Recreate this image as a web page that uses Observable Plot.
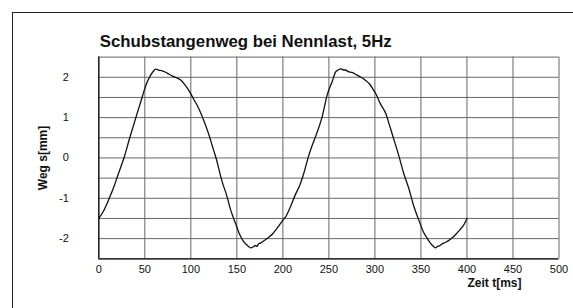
<!DOCTYPE html>
<html>
<head>
<meta charset="utf-8">
<script src="https://cdn.jsdelivr.net/npm/d3@7"></script>
<script src="https://cdn.jsdelivr.net/npm/@observablehq/plot@0.6"></script>
<style>
  html, body { margin: 0; padding: 0; background: #fff; overflow: hidden; }
  #wrap { position: relative; width: 573px; height: 308px; }
  #outer { position: absolute; left: 12px; top: 12px; width: 600px; height: 400px;
           border-left: 1.5px solid #222; border-top: 1.5px solid #222; pointer-events: none; }
</style>
</head>
<body>
<div id="wrap"><div id="outer"></div></div>
<script>
const title = "Schubstangenweg bei Nennlast, 5Hz";
const xLabel = "Zeit t[ms]";
const yLabel = "Weg s[mm]";
const xTicks = [0, 50, 100, 150, 200, 250, 300, 350, 400, 450, 500];
const yTicks = [-2, -1, 0, 1, 2];
const yGrid = [-2.5, -2, -1.5, -1, -0.5, 0, 0.5, 1, 1.5, 2, 2.5];

const timeMs = [0,5,11,16,20,24,28,33,40,47,51,56,60,62,65,69,72,76,80,84,89,93,96,100,103,107,111,114,117,120,123,125,128,132,135,138,141,143,146,149,152,154,157,160,163,165,168,170,172,174,176,179,181,185,189,192,196,200,203,208,213,219,223,228,232,236,243,248,254,257,260,263,266,268,271,275,280,285,290,294,298,301,306,312,316,320,323,326,331,337,342,348,353,357,361,364,366,368,370,373,377,380,384,388,392,396,400];
const wegMm = [-1.50,-1.32,-1.02,-0.74,-0.48,-0.22,0.05,0.45,0.98,1.50,1.79,2.04,2.17,2.20,2.18,2.16,2.13,2.08,2.03,1.99,1.93,1.83,1.74,1.59,1.46,1.30,1.10,0.93,0.75,0.55,0.32,0.17,-0.05,-0.42,-0.66,-0.86,-1.10,-1.27,-1.47,-1.65,-1.84,-1.94,-2.06,-2.14,-2.20,-2.23,-2.20,-2.17,-2.19,-2.12,-2.11,-2.06,-2.03,-1.96,-1.88,-1.79,-1.67,-1.54,-1.46,-1.22,-0.94,-0.64,-0.36,0.05,0.32,0.56,1.05,1.55,1.92,2.12,2.18,2.21,2.18,2.18,2.14,2.12,2.06,2.00,1.92,1.84,1.70,1.59,1.34,1.09,0.80,0.50,0.28,0.05,-0.36,-0.77,-1.18,-1.56,-1.85,-2.00,-2.13,-2.20,-2.23,-2.19,-2.18,-2.13,-2.09,-2.05,-1.98,-1.89,-1.79,-1.68,-1.50];

const data = timeMs.map((t, i) => ({t, v: wegMm[i]}));

const chart = Plot.plot({
  width: 573,
  height: 308,
  marginLeft: 98.3,
  marginRight: 14.5,
  marginTop: 56.6,
  marginBottom: 49.7,
  style: {fontFamily: "'Liberation Sans', Arial, sans-serif", fontSize: "11px", background: "transparent", color: "#111"},
  x: {domain: [0, 500], ticks: xTicks, tickSize: 0, tickPadding: 6, label: null},
  y: {domain: [-2.5, 2.5], ticks: yTicks, tickSize: 0, tickPadding: 30, label: null, tickFormat: d => String(d)},
  marks: [
    Plot.ruleX(xTicks, {stroke: "#666", strokeWidth: 1}),
    Plot.ruleY(yGrid, {stroke: "#666", strokeWidth: 1}),
    Plot.ruleX([0], {stroke: "#111", strokeWidth: 1.3}),
    Plot.ruleY([-2.5], {stroke: "#111", strokeWidth: 1.3}),
    Plot.line(data, {x: "t", y: "v", stroke: "#111", strokeWidth: 1.3, curve: "monotone-x"}),
    Plot.text([title], {text: d => d, frameAnchor: "top-left", dx: 1, dy: -15, textAnchor: "start", lineAnchor: "middle", fontSize: 16.8, fontWeight: "bold", fill: "#111"}),
    Plot.text([yLabel], {text: d => d, frameAnchor: "left", dx: -56, rotate: -90, textAnchor: "middle", lineAnchor: "middle", fontSize: 12, fontWeight: "bold", fill: "#111"}),
    Plot.text([xLabel], {text: d => d, frameAnchor: "bottom-right", dx: -37.5, dy: 24.4, textAnchor: "end", lineAnchor: "middle", fontSize: 12, fontWeight: "bold", fill: "#111"})
  ]
});
const wrap = document.getElementById("wrap");
chart.style.position = "absolute";
chart.style.left = "0";
chart.style.top = "0";
wrap.insertBefore(chart, wrap.firstChild);
</script>
</body>
</html>
